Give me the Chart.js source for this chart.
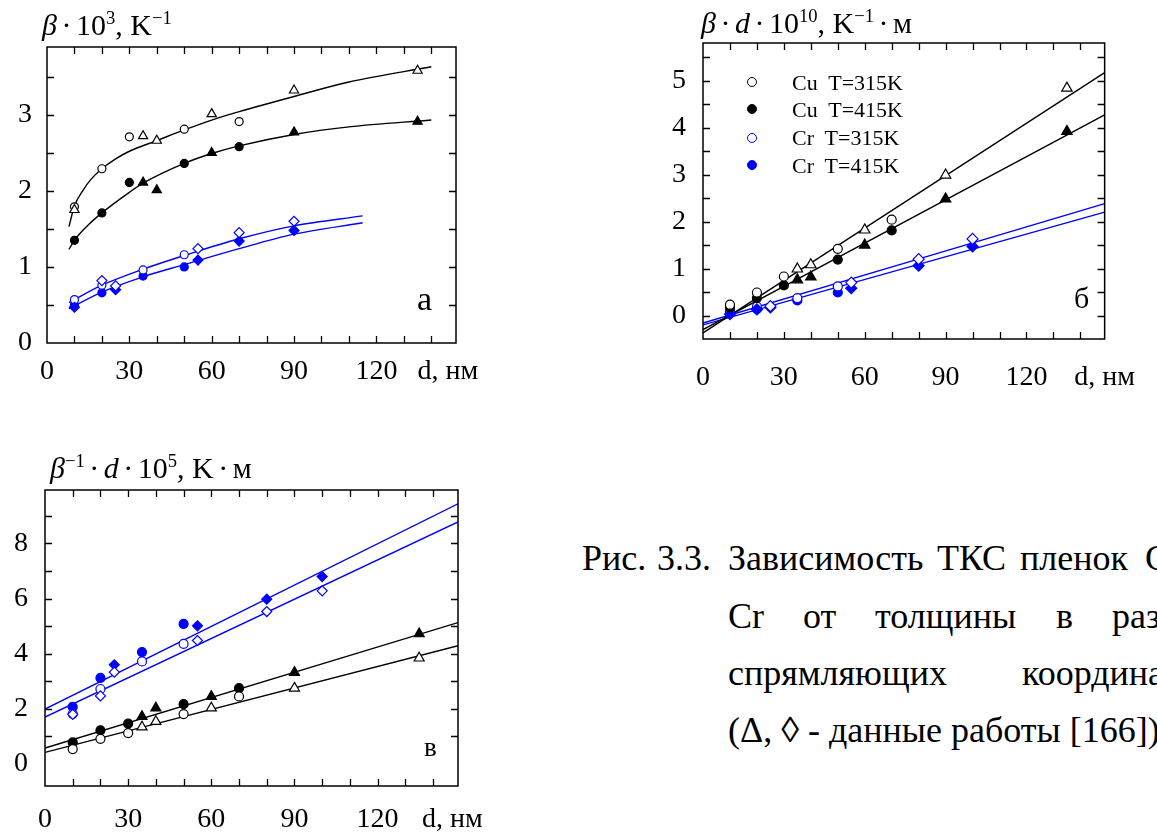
<!DOCTYPE html>
<html><head><meta charset="utf-8">
<script src="https://cdn.jsdelivr.net/npm/chart.js@4.4.1/dist/chart.umd.min.js"></script>
<style>
html,body{margin:0;padding:0;background:#fff;}
body{width:1157px;height:839px;overflow:hidden;position:relative;font-family:"Liberation Serif",serif;color:#000}
canvas{position:absolute}
.t{position:absolute;white-space:nowrap;line-height:1;font-family:"Liberation Serif",serif}
.sp{font-size:0.62em;position:relative;top:-0.6em}
.op{margin:0 0.15em}
.w{position:absolute;white-space:nowrap;line-height:1;font-size:36px;font-family:"Liberation Serif",serif}
.lg{position:absolute;white-space:nowrap;line-height:1;font-size:22px;font-family:"Liberation Serif",serif}
.mk{position:absolute;width:8px;height:8px;border-radius:50%;border:1.3px solid #000;box-sizing:content-box}
</style>
</head><body>
<canvas id="ca" width="530" height="400" style="left:0;top:0"></canvas>
<canvas id="cb" width="557" height="400" style="left:600px;top:0"></canvas>
<canvas id="cc" width="530" height="409" style="left:0;top:430px"></canvas>

<div class="t" style="left:42px;top:10px;font-size:30px"><i>β</i><span class="op">·</span>10<span class="sp">3</span>, K<span class="sp">−1</span></div>
<div class="t" style="left:701px;top:8px;font-size:30px"><i>β</i><span class="op">·</span><i>d</i><span class="op">·</span>10<span class="sp">10</span>, K<span class="sp">−1</span><span class="op">·</span>м</div>
<div class="t" style="left:50px;top:453px;font-size:30px"><i>β</i><span class="sp">−1</span><span class="op">·</span><i>d</i><span class="op">·</span>10<span class="sp">5</span>, K<span class="op">·</span>м</div>

<div class="t" style="left:417px;top:282px;font-size:34px">a</div>
<div class="t" style="left:1074px;top:283px;font-size:30px">б</div>
<div class="t" style="left:424px;top:734px;font-size:27px">в</div>

<!-- legend of panel b -->
<div class="mk" style="left:747px;top:77px;background:#fff"></div>
<div class="mk" style="left:747px;top:104px;background:#000"></div>
<div class="mk" style="left:747px;top:133px;background:#fff;border-color:#0000ff"></div>
<div class="mk" style="left:747px;top:160px;background:#0000ff;border-color:#0000ff"></div>
<div class="lg" style="left:792px;top:72px">Cu&nbsp; T=315K</div>
<div class="lg" style="left:792px;top:99px">Cu&nbsp; T=415K</div>
<div class="lg" style="left:792px;top:127px">Cr&nbsp; T=315K</div>
<div class="lg" style="left:792px;top:155px">Cr&nbsp; T=415K</div>

<!-- caption -->
<span class="w" style="left:582px;top:540px">Рис.</span>
<span class="w" style="left:657px;top:540px">3.3.</span>
<span class="w" style="left:728px;top:540px">Зависимость</span>
<span class="w" style="left:937px;top:540px">ТКС</span>
<span class="w" style="left:1020px;top:540px">пленок</span>
<span class="w" style="left:1145px;top:540px">Cu</span>
<span class="w" style="left:728px;top:598px">Cr</span>
<span class="w" style="left:803px;top:598px">от</span>
<span class="w" style="left:875px;top:598px">толщины</span>
<span class="w" style="left:1056px;top:598px">в</span>
<span class="w" style="left:1112px;top:598px">различных</span>
<span class="w" style="left:728px;top:655px">спрямляющих</span>
<span class="w" style="left:1022px;top:655px">координатах</span>
<span class="w" style="left:728px;top:712px">(Δ, ◊ - данные работы [166])</span>

<script>
// ---------- common axis values ----------
const xLabelTicks = [0, 30, 60, 90, 120];
const xMinorTicks = [10, 20, 30, 40, 50, 60, 70, 80, 90, 100, 110, 120, 130, 140];
const xUnitText = 'd, нм';

// ---------- panel a : beta*10^3 ----------
const aYTicks = [0, 1, 2, 3];
const aYMinor = [0.5, 1, 1.5, 2, 2.5, 3, 3.5];
const aD_own = [10, 20, 30, 50, 70];
const aCu315 = [1.79, 2.29, 2.71, 2.81, 2.91];
const aCu415 = [1.35, 1.71, 2.11, 2.36, 2.58];
const aD_CuRef315 = [10, 35, 40, 60, 90, 135];
const aCuRef315 = [1.75, 2.72, 2.66, 3.01, 3.32, 3.58];
const aD_CuRef415 = [35, 40, 60, 90, 135];
const aCuRef415 = [2.11, 2.01, 2.50, 2.77, 2.91];
const aD_Cr = [10, 20, 35, 50];
const aCr315 = [0.57, 0.76, 0.96, 1.16];
const aCr415 = [0.50, 0.66, 0.88, 1.00];
const aD_CrRef315 = [20, 25, 55, 70, 90];
const aCrRef315 = [0.82, 0.75, 1.24, 1.45, 1.60];
const aD_CrRef415 = [10, 25, 55, 70, 90];
const aCrRef415 = [0.47, 0.70, 1.09, 1.34, 1.48];
const aFitD_Cu315 = [8, 10, 13, 16, 20, 25, 30, 40, 50, 60, 70, 90, 110, 140];
const aFit_Cu315 = [1.53, 1.80, 2.00, 2.15, 2.29, 2.42, 2.52, 2.66, 2.80, 2.93, 3.04, 3.24, 3.43, 3.63];
const aFitD_Cu415 = [8, 10, 15, 20, 30, 35, 50, 60, 70, 90, 110, 140];
const aFit_Cu415 = [1.23, 1.35, 1.55, 1.71, 1.98, 2.10, 2.36, 2.49, 2.59, 2.74, 2.84, 2.93];
const aFitD_Cr = [8, 10, 20, 35, 50, 70, 90, 115];
const aFit_Cr315 = [0.53, 0.57, 0.76, 0.97, 1.15, 1.37, 1.54, 1.67];
const aFit_Cr415 = [0.45, 0.49, 0.67, 0.87, 1.03, 1.24, 1.43, 1.58];

// ---------- panel b : beta*d*10^10 ----------
const bYTicks = [0, 1, 2, 3, 4, 5];
const bYMinor = [0, 0.5, 1, 1.5, 2, 2.5, 3, 3.5, 4, 4.5, 5, 5.5];
const bD_own = [10, 20, 30, 50, 70];
const bCu315 = [0.23, 0.49, 0.83, 1.42, 2.04];
const bCu415 = [0.17, 0.37, 0.64, 1.19, 1.81];
const bD_CuRef = [35, 40, 60, 90, 135];
const bCuRef315 = [0.99, 1.08, 1.82, 2.99, 4.84];
const bCuRef415 = [0.76, 0.82, 1.50, 2.48, 3.92];
const bD_Cr = [10, 20, 35, 50];
const bCr315 = [0.09, 0.19, 0.37, 0.62];
const bCr415 = [0.05, 0.14, 0.32, 0.49];
const bD_CrRef315 = [25, 55, 80, 100];
const bCrRef315 = [0.20, 0.70, 1.20, 1.63];
const bD_CrRef415 = [10, 20, 25, 55, 80, 100];
const bCrRef415 = [0.03, 0.13, 0.17, 0.58, 1.06, 1.47];
const bFitD = [0, 149];
const bFit_Cu315 = [-0.37, 5.17];
const bFit_Cu415 = [-0.30, 4.27];
const bFit_Cr315 = [-0.16, 2.38];
const bFit_Cr415 = [-0.20, 2.20];

// ---------- panel c : beta^-1*d*10^5 ----------
const cYTicks = [0, 2, 4, 6, 8];
const cYMinor = [1, 2, 3, 4, 5, 6, 7, 8, 9];
const cD_own = [10, 20, 30, 50, 70];
const cCu415 = [0.78, 1.22, 1.46, 2.17, 2.75];
const cCu315 = [0.54, 0.91, 1.12, 1.81, 2.45];
const cD_CuRef = [35, 40, 60, 90, 135];
const cCuRef415 = [1.72, 2.03, 2.45, 3.32, 4.72];
const cCuRef315 = [1.34, 1.54, 2.03, 2.75, 3.84];
const cD_Cr = [10, 20, 35, 50];
const cCr415 = [2.07, 3.12, 4.06, 5.08];
const cCr315 = [1.82, 2.72, 3.72, 4.36];
const cD_CrRef415 = [25, 55, 80, 100];
const cCrRef415 = [3.60, 5.01, 5.98, 6.80];
const cD_CrRef315 = [10, 20, 25, 55, 80, 100];
const cCrRef315 = [1.80, 2.47, 3.33, 4.48, 5.53, 6.28];
const cFitD = [0, 149];
const cFit_Cr415 = [1.99, 9.44];
const cFit_Cr315 = [1.70, 8.78];
const cFit_Cu415 = [0.58, 5.13];
const cFit_Cu315 = [0.42, 4.29];

// ---------- helpers ----------
const BLACK = '#000000', BLUE = '#0000ff';
const FONT = '"Liberation Serif", serif';
Chart.defaults.font.family = FONT;
Chart.defaults.color = '#000';
const pts = (xs, ys) => xs.map((x, i) => ({x: x, y: ys[i]}));

function mark(xs, ys, style, color, filled, r) {
  return {data: pts(xs, ys), showLine: false, pointStyle: style, pointRadius: r,
    pointBorderColor: color, pointBackgroundColor: filled ? color : '#ffffff',
    pointBorderWidth: 1.2, order: 1};
}
function fit(xs, ys, color) {
  return {data: pts(xs, ys), showLine: true, borderColor: color, borderWidth: 1.4,
    pointRadius: 0, fill: false, cubicInterpolationMode: 'monotone', order: 2};
}
function frame(xMinor, yMinor, len) {
  return {id: 'frame', afterDraw(chart) {
    const a = chart.chartArea, ctx = chart.ctx, xs = chart.scales.x, ys = chart.scales.y;
    ctx.save();
    ctx.strokeStyle = '#000'; ctx.lineWidth = 1.3; ctx.beginPath();
    xMinor.forEach(v => { const p = Math.round(xs.getPixelForValue(v)) + 0.5;
      ctx.moveTo(p, a.bottom); ctx.lineTo(p, a.bottom - len);
      ctx.moveTo(p, a.top); ctx.lineTo(p, a.top + len); });
    yMinor.forEach(v => { const p = Math.round(ys.getPixelForValue(v)) + 0.5;
      ctx.moveTo(a.left, p); ctx.lineTo(a.left + len, p);
      ctx.moveTo(a.right, p); ctx.lineTo(a.right - len, p); });
    ctx.stroke();
    ctx.lineWidth = 1.5;
    ctx.strokeRect(a.left, a.top, a.right - a.left, a.bottom - a.top);
    ctx.restore();
  }};
}
function makeChart(id, datasets, o) {
  new Chart(document.getElementById(id), {
    type: 'scatter',
    data: {datasets: datasets},
    options: {
      responsive: false, animation: false, events: [],
      layout: {padding: {left: 0, top: o.padTop, right: o.padRight, bottom: 0}},
      plugins: {legend: {display: false}, tooltip: {enabled: false}},
      scales: {
        x: {type: 'linear', min: 0, max: 149,
          grid: {display: false, drawTicks: false}, border: {display: false},
          afterBuildTicks: s => { s.ticks = xLabelTicks.concat([o.unitPos]).map(v => ({value: v})); },
          afterFit: s => { s.height = o.xH; },
          ticks: {autoSkip: false, maxRotation: 0, padding: o.xPad, color: '#000',
            font: {family: FONT, size: o.fs},
            callback: v => (v === o.unitPos ? xUnitText : String(v))}},
        y: {type: 'linear', min: o.yMin, max: o.yMax,
          grid: {display: false, drawTicks: false}, border: {display: false},
          afterBuildTicks: s => { s.ticks = o.yTicks.map(v => ({value: v})); },
          afterFit: s => { s.width = o.yW; },
          ticks: {autoSkip: false, padding: o.yPad, color: '#000',
            font: {family: FONT, size: o.fs}, callback: v => String(v)}}
      }
    },
    plugins: [frame(xMinorTicks, o.yMinor, 7)]
  });
}

// panel a
makeChart('ca', [
  fit(aFitD_Cu315, aFit_Cu315, BLACK), fit(aFitD_Cu415, aFit_Cu415, BLACK),
  fit(aFitD_Cr, aFit_Cr315, BLUE), fit(aFitD_Cr, aFit_Cr415, BLUE),
  mark(aD_CuRef315, aCuRef315, 'triangle', BLACK, false, 5.3),
  mark(aD_CuRef415, aCuRef415, 'triangle', BLACK, true, 5.3),
  mark(aD_own, aCu315, 'circle', BLACK, false, 4),
  mark(aD_own, aCu415, 'circle', BLACK, true, 4),
  mark(aD_CrRef315, aCrRef315, 'rectRot', BLUE, false, 5),
  mark(aD_CrRef415, aCrRef415, 'rectRot', BLUE, true, 5),
  mark(aD_Cr, aCr315, 'circle', BLUE, false, 4),
  mark(aD_Cr, aCr415, 'circle', BLUE, true, 4)
], {padTop: 47, padRight: 74, xH: 57, yW: 47, xPad: 12, yPad: 15, fs: 28,
    yMin: 0, yMax: 3.89, yTicks: aYTicks, yMinor: aYMinor, unitPos: 146});

// panel b
makeChart('cb', [
  fit(bFitD, bFit_Cu315, BLACK), fit(bFitD, bFit_Cu415, BLACK),
  fit(bFitD, bFit_Cr315, BLUE), fit(bFitD, bFit_Cr415, BLUE),
  mark(bD_CuRef, bCuRef315, 'triangle', BLACK, false, 6),
  mark(bD_CuRef, bCuRef415, 'triangle', BLACK, true, 6),
  mark(bD_own, bCu315, 'circle', BLACK, false, 4.5),
  mark(bD_own, bCu415, 'circle', BLACK, true, 4.5),
  mark(bD_CrRef315, bCrRef315, 'rectRot', BLUE, false, 5.5),
  mark(bD_CrRef415, bCrRef415, 'rectRot', BLUE, true, 5.5),
  mark(bD_Cr, bCr315, 'circle', BLUE, false, 4.5),
  mark(bD_Cr, bCr415, 'circle', BLUE, true, 4.5)
], {padTop: 43, padRight: 46, xH: 61, yW: 103, xPad: 22, yPad: 17, fs: 28,
    yMin: -0.5, yMax: 5.8, yTicks: bYTicks, yMinor: bYMinor, unitPos: 149});

// panel c
makeChart('cc', [
  fit(cFitD, cFit_Cr415, BLUE), fit(cFitD, cFit_Cr315, BLUE),
  fit(cFitD, cFit_Cu415, BLACK), fit(cFitD, cFit_Cu315, BLACK),
  mark(cD_CuRef, cCuRef315, 'triangle', BLACK, false, 5.8),
  mark(cD_CuRef, cCuRef415, 'triangle', BLACK, true, 5.8),
  mark(cD_own, cCu315, 'circle', BLACK, false, 4.5),
  mark(cD_own, cCu415, 'circle', BLACK, true, 4.5),
  mark(cD_CrRef315, cCrRef315, 'rectRot', BLUE, false, 5),
  mark(cD_CrRef415, cCrRef415, 'rectRot', BLUE, true, 5),
  mark(cD_Cr, cCr315, 'circle', BLUE, false, 4.5),
  mark(cD_Cr, cCr415, 'circle', BLUE, true, 4.5)
], {padTop: 60, padRight: 72, xH: 53, yW: 45, xPad: 17, yPad: 17, fs: 28,
    yMin: -0.8, yMax: 9.94, yTicks: cYTicks, yMinor: cYMinor, unitPos: 147});
</script>
</body></html>
